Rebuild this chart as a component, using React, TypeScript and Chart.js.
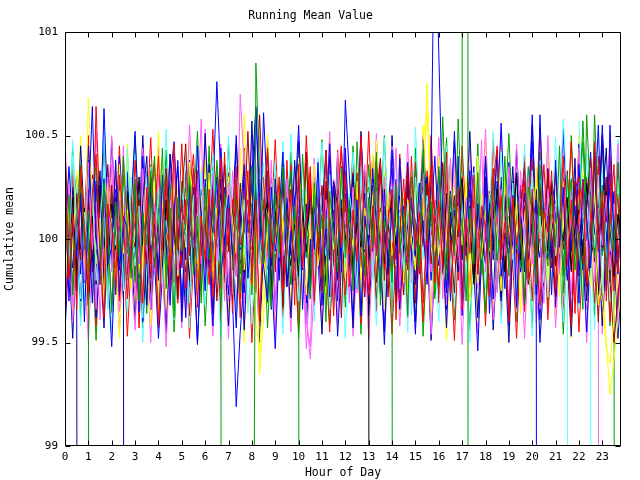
import React, { useEffect, useRef } from "react";
import { Chart, registerables } from "chart.js";

Chart.register(...registerables);

// x positions (hour of day), every 10 minutes
const hours = [
  0, 0.17, 0.33, 0.5, 0.67, 0.83, 1, 1.17, 1.33, 1.5, 1.67, 1.83,
  2, 2.17, 2.33, 2.5, 2.67, 2.83, 3, 3.17, 3.33, 3.5, 3.67, 3.83,
  4, 4.17, 4.33, 4.5, 4.67, 4.83, 5, 5.17, 5.33, 5.5, 5.67, 5.83,
  6, 6.17, 6.33, 6.5, 6.67, 6.83, 7, 7.17, 7.33, 7.5, 7.67, 7.83,
  8, 8.17, 8.33, 8.5, 8.67, 8.83, 9, 9.17, 9.33, 9.5, 9.67, 9.83,
  10, 10.17, 10.33, 10.5, 10.67, 10.83, 11, 11.17, 11.33, 11.5, 11.67, 11.83,
  12, 12.17, 12.33, 12.5, 12.67, 12.83, 13, 13.17, 13.33, 13.5, 13.67, 13.83,
  14, 14.17, 14.33, 14.5, 14.67, 14.83, 15, 15.17, 15.33, 15.5, 15.67, 15.83,
  16, 16.17, 16.33, 16.5, 16.67, 16.83, 17, 17.17, 17.33, 17.5, 17.67, 17.83,
  18, 18.17, 18.33, 18.5, 18.67, 18.83, 19, 19.17, 19.33, 19.5, 19.67, 19.83,
  20, 20.17, 20.33, 20.5, 20.67, 20.83, 21, 21.17, 21.33, 21.5, 21.67, 21.83,
  22, 22.17, 22.33, 22.5, 22.67, 22.83, 23, 23.17, 23.33, 23.5, 23.67, 23.83,
  24,
];

// x positions (hour of day), every 20 minutes, for the widely scattered runs
const hoursCoarse = [
  0, 0.33, 0.67, 1, 1.33, 1.67, 2, 2.33, 2.67, 3, 3.33, 3.67,
  4, 4.33, 4.67, 5, 5.33, 5.67, 6, 6.33, 6.67, 7, 7.33, 7.67,
  8, 8.33, 8.67, 9, 9.33, 9.67, 10, 10.33, 10.67, 11, 11.33, 11.67,
  12, 12.33, 12.67, 13, 13.33, 13.67, 14, 14.33, 14.67, 15, 15.33, 15.67,
  16, 16.33, 16.67, 17, 17.33, 17.67, 18, 18.33, 18.67, 19, 19.33, 19.67,
  20, 20.33, 20.67, 21, 21.33, 21.67, 22, 22.33, 22.67, 23, 23.33, 23.67,
  24,
];

const xTickValues = [0, 1, 2, 3, 4, 5, 6, 7, 8, 9, 10, 11, 12, 13, 14, 15, 16, 17, 18, 19, 20, 21, 22, 23];
const yTickValues = [99, 99.5, 100, 100.5, 101];

const run01 = [
  100.28, 99.81, 100.12, 99.66, 100.35, 100.04, 99.74, 100.22, 100.41, 99.93, 99.62, 100.17,
  100.06, 99.79, 100.31, 100.09, 99.71, 99.98, 100.38, 100.02, 99.69, 100.25, 99.88, 100.13,
  99.58, 100.07, 100.29, 99.84, 100.46, 99.95, 100.18, 99.76, 100.03, 100.34, 99.67, 100.11,
  99.9, 100.24, 99.72, 100.08, 100.39, 99.83, 100.15, 99.64, 100.27, 99.97, 100.05, 100.33,
  99.78, 100.19, 99.6, 100.12, 100.44, 99.91, 100.01, 100.3, 99.75, 99.94, 100.21, 99.68,
  100.36, 99.86, 100.1, 100.26, 99.7, 100.04, 99.82, 100.43, 100.07, 99.63, 100.2, 99.96,
  100.32, 99.77, 100.14, 99.89, 100.5, 100.0, 99.73, 100.16, 99.92, 100.37, 99.8, 100.09,
  100.23, 99.61, 100.02, 100.29, 99.85, 100.4, 99.95, 100.13, 99.69, 100.06, 100.35, 99.79,
  100.18, 99.87, 100.42, 99.74, 100.03, 100.25, 99.66, 100.1, 99.93, 100.31, 99.83, 100.16,
  100.05, 99.72, 100.27, 100.45, 99.9, 100.08, 99.6, 100.2, 99.97, 100.12, 100.37, 99.81,
  100.24, 99.93, 99.68, 100.14, 100.03, 100.33, 99.76, 100.08, 100.4, 99.87, 100.19, 99.64,
  100.11, 100.28, 99.79, 100.01, 100.47, 99.95, 100.22, 99.7, 100.09, 100.36, 99.84, 100.17,
  100.05,
];
const run02 = [
  99.87, 100.21, 99.73, 100.09, 100.36, 99.95, 100.14, 80, null, 99.78, 100.27, 100.03,
  99.65, 100.18, 99.92, 100.4, 100.06, 99.81, 100.29, 99.7, 100.12, 99.97, 100.33, 99.86,
  100.04, 100.44, 99.76, 100.15, 99.62, 100.2, 99.94, 100.08, 100.3, 99.83, 100.11, 99.69,
  100.25, 99.9, 100.02, 100.38, 100.1, 80, null, 99.85, 100.19, 99.74, 100.07, null,
  96, 100.85, 100.31, 99.88, 100.13, 99.67, 100.22, 99.93, 100.35, 100.0, 99.78, 100.16,
  99.89, 100.41, 100.05, 99.71, 100.27, 99.96, 100.12, 99.6, 100.23, 100.02, 99.84, 100.34,
  99.91, 100.17, 99.75, 100.47, 100.08, 99.82, 100.2, 99.97, 100.39, 99.68, 100.1, 100.01,
  99.79, 100.26, 99.93, 100.14, 99.63, 100.3, 100.06, 99.86, 100.43, 99.99, 100.18, 99.73,
  100.35, 100.03, 99.8, 100.22, 99.92, 100.58, 100.09, 99.7, 100.15, 99.88, 100.32, 99.97,
  99.64, 100.11, 100.28, 99.9, 100.04, 100.4, 99.82, 100.19, 99.95, 100.07, 99.69, 100.25,
  100.13, 99.78, 100.36, 100.0, 99.87, 100.21, 99.96, 100.45, 99.74, 100.1, 100.29, 99.85,
  100.03, 99.66, 100.6, 100.17, 99.91, 100.08, 100.26, 99.8, 100.12, 99.94, 100.37, 100.02,
  99.89,
];
const run03 = [
  100.33, 99.7, 100.08, 99.91, 100.22, 99.6, 100.15, 100.64, 100.02, 99.78, 100.29, 99.88,
  99.96, 100.38, 99.73, 100.11, 100.05, 99.84, 100.26, 99.65, 100.19, 100.4, 99.9, 100.07,
  99.8, 100.31, 99.97, 99.68, 100.14, 100.35, 100.0, 99.62, 100.23, 99.86, 100.45, 100.09,
  99.75, 100.17, 100.03, 100.3, 99.83, 99.99, 100.21, 99.92, 99.57, 100.12, 100.36, 99.81,
  100.06, 100.63, 100.2, 99.87, 99.7, 100.25, 99.94, 100.13, 100.42, 99.77, 100.04, 99.89,
  100.3, 99.66, 100.1, 100.22, 99.95, 100.37, 99.83, 100.05, 99.72, 100.28, 100.16, 99.9,
  100.44, 100.01, 99.8, 100.19, 99.63, 100.11, 99.97, 100.34, 100.07, 99.74, 100.24, 99.86,
  100.15, 99.69, 100.39, 100.0, 99.85, 100.2, 99.92, 100.27, 100.05, 99.78, 100.31, 101.7,
  100.9, 100.12, 99.76, 100.23, 99.95, 100.4, 99.71, 100.08, 100.33, 99.88, 100.17, 99.98,
  100.26, 99.64, 100.1, 100.43, 99.82, 100.03, 99.93, 100.21, 99.67, 100.14, 100.35, 99.9,
  100.07, 100.19, 80, null, 100.11, 99.73, 100.38, 99.96, 100.25, 99.8, 100.04, 100.16,
  99.69, 100.29, 100.09, 99.86, 100.42, 99.94, 100.18, 99.75, 100.55, 100.0, 99.83, 100.24,
  99.98,
];
const run04 = [
  99.9, 100.26, 99.68, 100.14, 100.03, 99.8, 100.37, 99.95, 100.18, 99.61, 100.09, 100.3,
  99.84, 100.12, 99.99, 100.45, 99.72, 100.06, 100.21, 99.88, 100.34, 100.01, 99.66, 100.17,
  99.93, 100.28, 99.77, 100.1, 100.4, 99.85, 100.05, 99.63, 100.22, 99.96, 100.13, 100.58,
  99.79, 100.08, 100.31, 99.89, 100.16, 99.7, 100.27, 100.02, 99.82, 100.7, 100.35, 99.94,
  100.11, 99.74, 100.24, 100.06, 99.87, 100.38, 99.65, 100.15, 99.92, 100.29, 100.0, 99.81,
  100.2, 99.96, 99.6, 99.48, 100.07, 100.33, 99.86, 100.19, 100.04, 99.73, 100.42, 99.98,
  100.13, 99.69, 100.25, 99.91, 100.08, 100.36, 99.78, 100.02, 100.17, 99.87, 100.3, 99.95,
  100.1, 100.44, 99.76, 100.05, 99.62, 100.23, 99.93, 100.14, 100.32, 99.8, 100.06, 99.97,
  100.27, 99.71, 100.11, 100.39, 99.89, 100.01, 99.67, 100.2, 99.94, 100.15, 100.03, 100.48,
  99.84, 100.09, 100.26, 99.74, 100.13, 99.92, 100.35, 100.04, 99.66, 100.19, 99.98, 100.3,
  99.88, 100.12, 100.02, 99.69, 100.24, 100.07, 100.16, 99.83, 100.41, 99.95, 100.1, 99.72,
  100.05, 100.28, 99.9, 100.34, 99.79, 100.15, 99.97, 100.21, 99.85, 100.09, 100.46, 100.0,
  100.12,
];
const run05 = [
  100.18, 99.85, 100.4, 100.02, 99.71, 100.13, 99.94, 100.29, 99.8, 100.07, 100.35, 99.66,
  100.1, 99.97, 100.23, 99.75, 100.44, 100.05, 99.87, 100.16, 99.62, 100.3, 100.0, 99.91,
  100.25, 99.78, 100.09, 99.95, 100.37, 99.83, 100.12, 100.03, 99.69, 100.21, 99.9, 100.33,
  99.76, 100.15, 100.41, 100.01, 99.86, 100.08, 100.28, 99.73, 100.11, 99.96, 100.19, 99.64,
  100.04, 100.36, 99.88, 100.14, 99.79, 100.27, 99.93, 100.07, 100.47, 99.84, 100.2, 100.0,
  99.7, 100.24, 99.98, 100.12, 99.82, 100.39, 100.06, 99.92, 100.31, 99.67, 100.15, 100.03,
  99.89, 100.22, 100.08, 99.76, 100.35, 99.95, 100.17, 99.81, 100.02, 100.26, 99.72, 100.11,
  99.99, 100.43, 100.05, 99.85, 100.18, 99.63, 100.3, 100.09, 99.9, 100.21, 100.01, 99.77,
  100.14, 99.94, 100.37, 99.83, 100.06, 100.25, 99.68, 100.12, 99.97, 100.32, 99.88, 100.04,
  100.2, 99.75, 100.1, 99.93, 100.42, 100.0, 99.86, 100.27, 99.71, 100.16, 100.03, 99.9,
  100.33, 99.98, 100.11, 99.79, 100.22, 100.06, 99.92, 100.15, 100.35, 100.05, 80, null,
  100.57, 100.1, 99.85, 100.2, 99.96, 100.31, 99.74, 100.08, 99.94, 100.17, 100.02, 99.81,
  100.13,
];
const run06 = [
  99.72, 100.19, 99.95, 100.33, 100.06, 99.84, 100.68, 100.2, 99.88, 100.1, 99.69, 100.27,
  100.01, 99.8, 100.36, 99.93, 100.14, 99.76, 100.22, 100.05, 99.86, 100.4, 99.97, 100.11,
  99.65, 100.18, 100.02, 99.9, 100.29, 99.82, 100.13, 99.96, 100.37, 100.07, 99.74, 100.21,
  99.91, 100.32, 99.8, 100.15, 100.0, 99.7, 100.26, 100.09, 99.93, 100.44, 99.85, 100.03,
  99.78, 100.12, 99.35, 99.62, 100.07, 100.24, 99.94, 100.3, 100.04, 99.83, 100.17, 99.9,
  100.39, 99.99, 99.73, 100.1, 100.26, 99.87, 100.05, 99.68, 100.2, 99.95, 100.12, 100.34,
  99.81, 100.08, 99.97, 100.28, 99.76, 100.15, 100.02, 100.41, 99.89, 100.13, 99.66, 100.24,
  99.92, 100.06, 100.31, 99.79, 100.19, 100.0, 99.85, 100.27, 100.09, 100.75, 100.22, 99.94,
  100.11, 99.74, 100.03, 100.36, 99.88, 100.16, 99.97, 100.25, 99.7, 100.08, 100.4, 99.91,
  100.14, 99.83, 100.21, 100.01, 99.75, 100.3, 100.06, 99.93, 100.17, 99.64, 100.1, 100.23,
  99.87, 100.35, 100.0, 100.12, 99.8, 100.19, 100.04, 99.72, 100.28, 99.96, 100.14, 99.84,
  100.09, 100.32, 99.9, 99.77, 100.02, 99.68, 99.85, 99.5, 99.25, 99.42, 99.61, 99.8,
  99.9,
];
const run07 = [
  100.08, 99.9, 100.2, 99.83, 100.04, 100.15, 99.92, 100.11, 99.78, 100.26, 100.0, 99.87,
  100.17, 99.95, 100.06, 99.81, 100.23, 100.02, 99.89, 100.3, 99.97, 100.09, 99.74, 100.13,
  100.01, 99.86, 100.19, 99.94, 100.35, 99.9, 100.12, 100.03, 99.8, 100.16, 99.93, 100.24,
  99.85, 100.07, 100.28, 99.96, 100.1, 99.79, 100.2, 99.91, 100.05, 100.14, 99.84, 100.02,
  99.95, 100.25, 99.88, 100.09, 100.18, 99.76, 100.13, 99.98, 100.31, 100.0, 99.87, 100.07,
  99.82, 100.16, 99.94, 100.22, 100.04, 99.9, 100.1, 99.77, 100.03, 100.27, 99.92, 100.15,
  100.0, 100.19, 99.85, 100.08, 99.96, 100.33, 99.93, 80, null, 100.12, 99.88, 100.05,
  100.21, 99.97, 100.1, 99.8, 100.14, 100.02, 99.91, 100.26, 100.06, 99.86, 100.18, 99.99,
  100.09, 99.83, 100.22, 100.03, 99.93, 100.17, 100.29, 99.96, 100.08, 99.79, 100.12, 100.01,
  99.88, 100.15, 99.95, 100.24, 100.06, 99.84, 100.11, 100.02, 100.32, 99.9, 100.07, 99.97,
  100.18, 99.81, 100.04, 100.13, 99.94, 100.26, 99.87, 100.09, 99.99, 100.2, 99.85, 100.05,
  100.14, 99.92, 100.27, 100.01, 99.89, 100.1, 99.96, 100.23, 100.04, 99.82, 100.12, 100.0,
  100.07,
];
const run08 = [
  100.4, 100.05, 99.77, 100.22, 99.9, 100.13, 99.68, 100.31, 100.01, 99.86, 100.17, 99.95,
  100.26, 99.73, 100.09, 100.38, 99.83, 100.04, 99.96, 100.19, 99.64, 100.12, 100.29, 99.88,
  100.07, 99.8, 100.34, 99.98, 100.15, 99.71, 100.23, 100.46, 99.92, 100.06, 99.79, 100.18,
  99.87, 100.1, 100.27, 99.7, 100.02, 100.36, 99.94, 100.14, 99.82, 100.25, 100.08, 100.52,
  100.03, 99.76, 100.2, 99.91, 100.33, 100.0, 99.84, 100.16, 99.67, 100.09, 100.24, 99.93,
  100.11, 99.97, 100.42, 99.81, 100.05, 100.2, 99.75, 100.28, 100.01, 99.89, 100.13, 99.62,
  100.19, 99.95, 100.07, 100.32, 99.86, 100.1, 99.98, 100.4, 99.79, 100.15, 100.02, 99.72,
  100.24, 99.9, 100.11, 99.83, 100.35, 100.04, 99.69, 100.17, 99.96, 100.27, 99.88, 100.09,
  100.13, 100.37, 99.85, 100.0, 99.74, 100.21, 99.93, 100.06, 100.3, 99.78, 100.14, 99.99,
  100.25, 99.82, 100.08, 100.43, 99.94, 100.12, 99.87, 100.2, 99.66, 100.03, 100.16, 99.9,
  100.09, 99.98, 100.23, 99.8, 100.34, 100.05, 99.73, 100.12, 99.95, 100.19, 99.84, 100.28,
  100.01, 99.88, 100.15, 100.39, 99.97, 99.6, 100.06, 100.3, 99.79, 100.1, 99.92, 100.24,
  100.02,
];
const run09 = [
  100.11, 99.82, 100.25, 100.0, 80, null, 100.16, 99.89, 100.07, 100.33, 99.75, 100.02,
  99.94, 100.2, 99.85, 100.06, 80, null, 100.23, 99.93, 100.12, 99.68, 100.3, 100.04,
  99.86, 100.15, 99.97, 100.41, 100.08, 99.79, 100.19, 99.9, 100.27, 100.01, 99.73, 100.13,
  99.96, 100.36, 99.84, 100.05, 100.22, 99.91, 100.1, 99.7, 100.18, 99.95, 100.32, 100.03,
  99.8, 100.26, 100.09, 99.88, 100.14, 99.66, 100.29, 100.0, 99.78, 100.2, 99.93, 100.38,
  100.06, 99.85, 100.17, 99.72, 100.24, 99.97, 100.12, 100.43, 99.9, 100.08, 99.81, 100.19,
  99.95, 100.03, 100.31, 99.76, 100.1, 100.22, 99.87, 100.14, 99.99, 100.37, 100.05, 99.83,
  100.21, 99.69, 100.11, 99.94, 100.28, 100.02, 99.79, 100.16, 100.4, 99.92, 100.07, 99.86,
  100.25, 100.01, 99.74, 100.13, 99.97, 100.33, 99.9, 100.2, 100.06, 99.8, 100.17, 100.04,
  100.3, 99.88, 100.12, 99.98, 99.7, 100.21, 100.05, 100.35, 99.93, 100.15, 99.84, 100.09,
  99.96, 100.24, 100.02, 99.77, 100.18, 99.91, 100.13, 99.85, 100.29, 100.06, 99.94, 100.39,
  99.82, 100.1, 99.99, 100.23, 100.03, 99.73, 100.17, 100.44, 99.95, 100.08, 99.86, 100.14,
  100.01,
];
const run10 = [
  99.61, 100.12, 100.3, 99.88, 100.04, 99.79, 100.24, 99.93, 100.64, 100.1, 99.85, 100.17,
  99.97, 100.36, 99.7, 100.06, 100.21, 99.9, 100.14, 99.57, 100.02, 100.28, 99.81, 100.09,
  100.4, 99.95, 100.15, 99.74, 100.25, 100.0, 99.86, 100.19, 99.63, 100.11, 100.33, 99.92,
  100.07, 99.78, 100.22, 100.03, 99.89, 100.42, 99.96, 100.13, 100.35, 99.71, 100.08, 100.19,
  99.84, 100.29, 100.01, 99.9, 100.16, 99.68, 100.23, 100.05, 99.8, 100.38, 99.94, 100.1,
  99.75, 100.17, 100.02, 100.31, 99.87, 100.06, 100.26, 99.92, 100.13, 99.66, 100.2, 100.45,
  99.99, 100.09, 99.82, 100.24, 100.04, 99.73, 100.18, 99.95, 100.37, 100.01, 99.86, 100.14,
  99.9, 100.27, 99.7, 100.11, 100.32, 99.98, 100.05, 99.83, 100.2, 99.94, 100.41, 100.07,
  99.77, 100.15, 99.96, 100.23, 99.88, 100.03, 100.3, 100.0, 99.72, 100.18, 100.06, 99.91,
  100.12, 99.8, 100.34, 99.97, 100.21, 99.85, 100.02, 100.26, 99.9, 100.09, 99.65, 100.16,
  100.39, 99.93, 100.05, 99.79, 100.28, 100.01, 99.87, 100.13, 100.22, 99.95, 99.58, 100.1,
  100.24, 100.04, 99.83, 100.17, 99.92, 100.35, 99.96, 100.11, 100.3, 99.75, 100.08, 100.43,
  100.0,
];
const run11 = [
  100.19, 99.9, 100.06, 99.75, 100.28, 100.01, 99.84, 100.14, 100.37, 99.96, 100.09, 99.7,
  100.23, 100.03, 99.88, 100.31, 99.93, 100.12, 99.79, 100.2, 100.05, 99.64, 100.16, 100.4,
  99.97, 100.08, 99.82, 100.26, 100.0, 99.89, 100.13, 99.72, 100.34, 100.04, 99.91, 100.18,
  100.02, 100.45, 99.86, 100.11, 99.78, 100.22, 99.94, 100.07, 100.29, 99.83, 100.15, 99.98,
  100.35, 99.9, 100.03, 100.19, 99.69, 100.1, 99.88, 100.24, 99.97, 100.08, 100.33, 99.8,
  100.05, 80, null, 100.17, 99.92, 100.27, 99.74, 100.1, 100.02, 99.87, 100.38, 100.06,
  99.95, 100.21, 99.81, 100.13, 100.0, 100.3, 99.9, 100.09, 100.42, 99.78, 100.16, 99.96,
  99.86, 80, null, 100.2, 99.94, 100.07, 100.33, 99.85, 100.12, 99.99, 100.25, 99.71,
  100.04, 100.18, 99.89, 100.36, 100.01, 100.14, 100.3, 140, 60, null, 100.1, 99.83,
  100.22, 99.96, 100.07, 99.75, 100.19, 100.03, 99.91, 100.28, 100.12, 99.86, 100.0, 100.35,
  100.08, 99.79, 100.16, 100.04, 99.93, 100.24, 99.97, 100.11, 99.82, 100.31, 100.02, 99.9,
  100.18, 100.47, 100.05, 99.88, 100.6, 100.13, 99.95, 100.22, 99.84, 100.09, 100.01, 100.27,
  99.93,
];
const run12 = [
  99.98, 100.35, 100.06, 99.79, 100.21, 99.91, 100.1, 99.69, 100.28, 100.0, 100.63, 100.14,
  99.86, 100.04, 100.19, 99.73, 100.32, 99.95, 100.09, 99.88, 100.4, 100.02, 99.66, 100.16,
  99.83, 100.27, 100.07, 99.94, 100.12, 100.38, 99.6, 100.03, 99.77, 100.2, 99.9, 100.11,
  100.05, 99.86, 100.22, 100.76, 100.3, 99.97, 100.14, 99.71, 99.19, 99.55, 99.82, 100.09,
  100.02, 100.25, 99.93, 100.61, 100.18, 99.87, 100.1, 99.8, 100.33, 100.04, 99.92, 100.2,
  100.29, 99.95, 100.08, 99.76, 100.15, 100.01, 99.89, 100.23, 100.06, 99.98, 100.37, 99.84,
  100.67, 100.31, 100.02, 99.9, 100.13, 99.72, 100.07, 100.26, 99.94, 100.11, 99.85, 100.19,
  100.34, 100.0, 99.81, 100.16, 100.05, 99.93, 99.78, 100.12, 100.27, 99.96, 100.09, 100.4,
  100.02, 99.87, 100.2, 99.7, 100.14, 100.01, 100.24, 99.92, 100.07, 100.35, 99.83, 100.1,
  99.88, 100.17, 99.99, 100.28, 100.04, 99.76, 100.37, 99.95, 100.13, 99.84, 100.22, 100.06,
  100.15, 99.73, 100.6, 100.08, 99.91, 100.19, 99.97, 100.11, 100.3, 99.82, 100.03, 100.26,
  100.06, 99.85, 100.17, 100.42, 99.94, 100.1, 100.55, 100.12, 99.9, 100.21, 99.98, 100.33,
  100.2,
];
const run13 = [
  100.07, 99.76, 100.2, 99.93, 100.31, 100.0, 99.87, 100.14, 99.66, 100.25, 100.04, 99.95,
  100.36, 99.89, 100.11, 99.8, 100.18, 100.02, 99.73, 100.09, 100.27, 99.97, 100.13, 99.84,
  100.22, 99.91, 100.05, 100.4, 99.79, 100.1, 99.96, 100.19, 99.7, 100.06, 100.3, 99.88,
  100.12, 100.01, 99.83, 100.24, 99.94, 100.16, 99.78, 100.33, 100.07, 99.9, 100.43, 100.03,
  99.86, 100.15, 100.5, 99.95, 100.09, 99.71, 100.26, 100.0, 99.89, 100.17, 99.82, 100.35,
  100.04, 99.93, 99.62, 99.42, 99.77, 100.13, 100.21, 99.97, 100.08, 100.29, 99.86, 100.02,
  99.92, 100.18, 100.05, 99.74, 100.38, 100.1, 100.0, 99.81, 100.23, 100.06, 99.95, 100.15,
  100.32, 99.88, 100.11, 99.97, 100.2, 99.79, 99.9, 100.27, 100.03, 100.13, 99.84, 100.08,
  100.19, 99.95, 100.36, 99.76, 100.04, 100.12, 99.85, 100.09, 99.98, 100.25, 100.01, 99.9,
  100.16, 99.73, 100.2, 100.07, 99.94, 100.3, 99.99, 100.14, 99.8, 100.33, 100.02, 99.88,
  100.1, 99.6, 99.82, 100.18, 100.06, 100.24, 99.93, 100.04, 100.16, 99.87, 100.28, 100.0,
  100.12, 99.9, 100.05, 100.21, 99.97, 100.02, 80, null, 100.15, 99.86, 100.09, 100.2,
  100.01,
];
const run14 = [
  99.81, 100.13, 99.94, 100.27, 100.06, 99.7, 100.2, 100.02, 100.35, 99.88, 100.1, 99.96,
  100.08, 99.74, 100.19, 100.01, 99.85, 100.3, 99.93, 100.24, 100.04, 99.79, 100.15, 99.99,
  100.11, 99.87, 100.32, 100.0, 99.68, 100.17, 100.03, 100.4, 99.9, 100.12, 99.83, 100.22,
  99.97, 100.06, 100.28, 99.8, 100.1, 99.92, 100.18, 99.77, 100.02, 100.25, 99.95, 100.09,
  99.88, 100.14, 99.98, 100.37, 100.05, 99.73, 100.21, 99.91, 100.12, 100.3, 99.84, 100.01,
  99.93, 100.16, 100.07, 99.78, 100.23, 100.03, 100.11, 100.38, 99.89, 100.05, 99.97, 100.26,
  99.82, 100.09, 100.18, 99.95, 100.34, 100.0, 100.14, 99.87, 100.04, 100.21, 99.76, 100.1,
  100.25, 99.96, 100.13, 99.85, 100.06, 100.31, 99.92, 100.17, 100.02, 99.8, 100.24, 100.08,
  100.01, 100.3, 99.9, 100.15, 99.98, 100.07, 100.19, 99.83, 100.11, 99.94, 100.28, 100.03,
  99.89, 100.22, 100.05, 100.36, 99.93, 100.12, 100.08, 99.9, 100.26, 100.02, 99.79, 100.17,
  100.3, 99.97, 100.1, 99.86, 100.2, 100.04, 99.94, 100.15, 100.58, 100.21, 100.03, 99.88,
  100.12, 100.0, 100.24, 99.93, 80, null, 100.06, 99.91, 100.18, 100.02, 100.29, 99.97,
  100.07,
];
const run15 = [
  100.24, 99.89, 100.1, 99.72, 100.33, 100.02, 99.81, 100.06, 99.95, 100.2, 99.86, 100.14,
  100.31, 100.0, 99.77, 100.12, 100.4, 99.91, 100.05, 99.83, 100.22, 99.97, 100.09, 100.28,
  99.9, 100.16, 99.78, 100.03, 99.94, 100.25, 100.11, 99.69, 100.19, 100.01, 99.88, 100.35,
  99.96, 100.08, 100.26, 99.84, 100.14, 100.02, 100.3, 99.85, 100.07, 99.92, 100.6, 100.13,
  99.95, 99.6, 99.45, 99.8, 100.1, 100.2, 99.87, 100.17, 100.03, 100.29, 99.93, 100.06,
  100.12, 99.82, 100.21, 100.0, 100.36, 99.9, 100.04, 99.76, 100.15, 99.98, 100.08, 99.86,
  100.19, 100.02, 99.88, 100.27, 99.95, 100.1, 99.8, 100.23, 100.06, 99.91, 100.32, 100.0,
  100.14, 99.87, 100.01, 100.18, 99.73, 100.09, 100.25, 99.97, 100.48, 100.62, 100.12, 99.84,
  99.93, 100.11, 100.2, 99.86, 100.04, 100.16, 100.03, 100.3, 99.9, 100.09, 99.79, 100.22,
  100.15, 99.94, 100.07, 100.34, 99.87, 100.05, 99.91, 100.13, 100.26, 99.98, 100.18, 99.82,
  100.08, 100.29, 99.96, 100.14, 100.02, 99.75, 100.17, 99.93, 100.06, 100.2, 99.88, 100.11,
  99.86, 100.05, 100.13, 99.97, 100.24, 99.79, 99.7, 99.48, 99.4, 99.62, 99.85, 100.03,
  100.16,
];
const run16 = [
  99.93, 100.22, 100.05, 99.78, 100.31, 100.1, 100.14, 99.84, 100.27, 100.0, 99.91, 100.36,
  100.03, 100.18, 99.72, 100.09, 99.96, 100.25, 99.82, 100.12, 100.04, 99.88, 100.3, 100.0,
  100.19, 99.94, 100.08, 100.41, 99.79, 100.13, 99.87, 100.33, 100.06, 99.92, 100.2, 99.75,
  100.11, 100.01, 99.83, 100.24, 100.07, 99.97, 100.23, 100.09, 99.9, 100.15, 99.8, 100.02,
  100.04, 100.2, 100.6, 100.12, 99.95, 100.28, 99.9, 100.13, 100.06, 99.77, 100.19, 100.03,
  100.16, 99.85, 100.0, 100.27, 99.93, 100.1, 100.25, 100.08, 99.94, 100.14, 99.8, 100.35,
  99.91, 100.15, 100.32, 99.99, 100.06, 99.86, 100.07, 99.96, 100.2, 100.39, 99.88, 100.12,
  99.84, 100.11, 100.02, 99.73, 100.23, 100.05, 100.28, 99.93, 100.09, 100.17, 99.97, 100.01,
  100.12, 100.36, 99.89, 100.04, 100.21, 99.9, 99.96, 100.15, 100.07, 99.82, 100.3, 100.0,
  100.22, 99.87, 100.12, 100.03, 99.94, 100.19, 100.01, 100.17, 99.85, 100.26, 100.08, 99.78,
  99.92, 100.09, 100.27, 100.0, 100.14, 99.86, 100.05, 99.9, 100.18, 100.33, 99.95, 100.11,
  100.13, 100.02, 99.77, 100.2, 99.89, 100.06, 100.09, 100.25, 99.8, 99.5, 99.72, 99.95,
  100.04,
];
const run17 = [
  100.13, 100.0, 99.86, 100.24, 99.95, 100.08, 100.06, 100.2, 99.92, 100.11, 99.8, 100.29,
  99.9, 100.12, 100.27, 99.98, 100.05, 99.84, 100.03, 99.81, 100.15, 100.33, 99.94, 100.1,
  100.22, 100.07, 99.96, 99.78, 100.18, 100.01, 99.92, 100.17, 100.04, 100.25, 99.87, 100.09,
  100.1, 99.88, 100.21, 100.02, 100.14, 99.93, 100.0, 100.13, 99.9, 100.27, 100.05, 99.97,
  100.57, 100.06, 99.98, 100.16, 99.85, 100.11, 100.15, 99.89, 100.07, 100.24, 99.95, 100.02,
  99.95, 100.2, 100.03, 99.86, 100.12, 100.31, 100.11, 99.92, 100.17, 100.0, 99.83, 100.08,
  100.07, 99.98, 99.85, 100.2, 100.1, 99.94, 100.18, 100.29, 100.04, 99.9, 100.14, 100.02,
  99.93, 100.1, 100.21, 99.87, 100.06, 100.16, 100.02, 99.88, 100.12, 100.3, 99.96, 100.05,
  100.25, 100.06, 99.92, 100.15, 100.01, 99.84, 100.1, 99.97, 100.16, 100.04, 100.23, 99.91,
  100.04, 100.19, 99.9, 100.08, 99.99, 100.12, 99.98, 100.08, 100.13, 99.86, 100.2, 100.03,
  100.22, 99.95, 100.06, 100.17, 99.9, 100.1, 99.89, 100.14, 100.25, 100.01, 100.09, 99.94,
  100.09, 100.0, 100.17, 100.31, 99.96, 100.05, 100.5, 100.03, 99.92, 100.12, 99.88, 100.06,
  100.11,
];
const run18 = [
  99.77, 100.1, 100.34, 99.95, 100.18, 99.84, 100.13, 99.91, 100.03, 100.26, 99.79, 100.07,
  100.21, 99.86, 100.1, 99.71, 100.3, 100.0, 99.96, 100.27, 100.05, 99.88, 100.14, 100.37,
  99.82, 100.12, 99.95, 100.22, 100.04, 99.69, 100.06, 99.9, 100.23, 100.41, 99.97, 100.09,
  100.16, 100.04, 99.85, 100.12, 99.76, 100.2, 99.97, 100.19, 100.08, 99.62, 100.26, 100.03,
  100.11, 99.81, 100.03, 100.3, 99.92, 100.15, 99.94, 100.17, 100.3, 99.8, 100.06, 99.9,
  100.07, 99.99, 100.12, 100.35, 99.87, 100.02, 99.88, 100.21, 100.01, 99.93, 100.16, 100.44,
  100.13, 99.93, 100.08, 99.78, 100.24, 100.05, 100.02, 100.16, 99.9, 100.31, 99.97, 100.11,
  100.24, 100.05, 100.14, 99.83, 100.2, 99.96, 99.85, 100.1, 99.97, 100.33, 100.02, 100.18,
  100.2, 100.08, 100.29, 99.91, 100.13, 99.8, 100.0, 99.89, 100.12, 100.25, 99.94, 100.06,
  100.06, 100.23, 99.94, 100.1, 99.72, 100.18, 100.15, 100.01, 100.1, 99.86, 100.28, 100.04,
  99.91, 100.17, 100.04, 100.36, 99.98, 100.12, 100.09, 99.96, 100.19, 99.81, 100.07, 100.24,
  100.3, 100.07, 99.88, 100.14, 99.93, 100.4, 100.02, 100.13, 100.4, 99.96, 100.22, 99.87,
  100.03,
];
const run19 = [
  100.2, 99.92, 100.1, 100.31, 99.83, 100.05, 100.38, 100.04, 99.87, 100.16, 99.95, 100.24,
  100.07, 100.24, 100.0, 99.79, 100.13, 99.93, 99.9, 100.13, 99.97, 100.28, 100.06, 99.85,
  100.15, 100.05, 100.28, 99.92, 100.1, 99.75, 99.95, 99.84, 100.09, 100.33, 100.01, 100.17,
  100.03, 100.19, 99.93, 100.11, 99.8, 100.25, 100.12, 100.01, 100.23, 99.88, 100.07, 99.96,
  100.3, 100.64, 100.1, 99.96, 100.18, 99.89, 100.05, 100.2, 99.9, 100.12, 100.32, 99.98,
  100.14, 99.97, 100.08, 99.82, 100.21, 100.04, 99.92, 100.18, 100.05, 100.27, 99.9, 100.11,
  100.26, 100.1, 99.99, 100.15, 99.87, 100.06, 100.03, 99.94, 100.12, 100.35, 100.0, 99.83,
  100.17, 100.29, 99.98, 100.09, 99.91, 100.2, 100.08, 100.0, 100.15, 99.86, 100.25, 100.04,
  99.87, 100.11, 100.04, 100.22, 99.95, 100.13, 100.21, 99.93, 100.09, 100.3, 100.02, 99.88,
  100.0, 100.15, 100.27, 99.9, 100.06, 100.19, 99.97, 100.06, 100.13, 100.24, 99.85, 100.1,
  100.6, 100.02, 99.91, 100.14, 100.05, 100.28, 100.16, 100.07, 99.85, 100.2, 99.98, 100.11,
  100.11, 100.24, 100.02, 99.89, 100.15, 100.55, 99.94, 100.12, 100.06, 100.23, 99.9, 100.08,
  100.18,
];
const run20 = [
  99.96, 100.15, 100.03, 99.84, 100.23, 100.08, 100.09, 99.85, 100.17, 100.3, 99.93, 100.05,
  100.04, 100.21, 99.93, 100.12, 99.8, 100.19, 100.1, 99.96, 100.08, 100.27, 99.88, 100.02,
  99.89, 100.02, 100.19, 99.95, 100.33, 100.07, 100.12, 100.25, 99.97, 100.04, 99.83, 100.16,
  100.06, 99.91, 100.14, 100.35, 100.0, 99.9, 99.95, 100.08, 100.01, 100.22, 99.86, 100.12,
  100.17, 99.87, 100.22, 100.06, 99.94, 100.3, 100.03, 100.12, 99.94, 100.18, 100.07, 99.85,
  100.2, 100.05, 99.91, 100.13, 99.99, 100.26, 100.09, 99.99, 100.16, 99.88, 100.24, 100.03,
  99.86, 100.07, 100.13, 100.02, 99.95, 100.2, 100.25, 100.0, 99.92, 100.11, 100.31, 100.05,
  100.11, 100.19, 100.04, 99.9, 100.15, 99.97, 99.93, 100.06, 100.1, 100.28, 100.02, 100.14,
  100.02, 100.59, 100.08, 99.92, 100.17, 100.04, 99.9, 100.16, 100.03, 100.21, 99.96, 100.1,
  100.13, 99.95, 100.07, 100.25, 100.0, 99.88, 100.2, 100.01, 99.88, 100.12, 100.06, 100.29,
  100.05, 100.14, 100.23, 99.94, 100.09, 100.02, 99.97, 100.09, 100.02, 100.18, 99.9, 100.13,
  100.1, 100.57, 100.13, 100.02, 100.36, 99.96, 99.92, 100.05, 100.14, 100.08, 80, null,
  null,
];

// widely scattered runs, sampled every 20 minutes
const wide01 = [99.55, 100.32, 99.7, 100.45, 99.62, 100.18, 99.48, 100.4, 99.83, 100.52, 99.6, 100.25, 99.52, 100.1, 100.47, 99.66, 100.38, 99.5, 100.29, 99.58, 100.44, 99.73, 100.5, 99.56, 100.35, 99.64, 100.2, 99.47, 100.42, 99.78, 100.55, 99.59, 100.3, 99.68, 100.46, 99.53, 100.22, 99.62, 100.5, 99.75, 100.37, 99.49, 100.43, 99.66, 100.27, 99.54, 100.48, 99.8, 100.33, 99.57, 100.52, 99.63, 100.24, 99.46, 100.4, 99.71, 100.56, 99.58, 100.31, 99.67, 100.47, 99.5, 100.15, 99.72, 100.53, 99.6, 100.36, 99.55, 100.44, 99.65, 100.28, 99.52, 100.1];
const wide02 = [100.42, 99.6, 100.25, 99.5, 100.36, 99.74, 100.5, 99.65, 100.12, 99.56, 100.44, 99.69, 100.31, 99.48, 100.38, 99.62, 100.55, 99.77, 100.2, 99.53, 100.46, 99.7, 100.34, 99.58, 100.49, 99.64, 100.27, 99.55, 100.4, 99.82, 100.33, 99.47, 100.21, 99.66, 100.52, 99.6, 100.39, 99.72, 100.48, 99.51, 100.3, 99.65, 100.45, 99.58, 100.18, 99.73, 100.5, 99.54, 100.28, 99.68, 100.41, 99.49, 100.35, 99.76, 100.53, 99.61, 100.24, 99.7, 100.46, 99.52, 100.32, 99.66, 100.5, 99.57, 100.27, 99.73, 100.44, 99.5, 100.37, 99.68, 100.51, 99.6, 100.3];
const wide03 = [99.66, 100.48, 99.58, 100.3, 99.7, 100.52, 99.55, 100.26, 99.64, 100.41, 99.5, 100.35, 99.74, 100.53, 99.61, 100.22, 99.57, 100.45, 99.68, 100.33, 99.52, 100.5, 99.63, 100.28, 99.59, 100.44, 99.75, 100.37, 99.54, 100.51, 99.7, 100.25, 99.6, 100.47, 99.66, 100.34, 99.52, 100.42, 99.73, 100.3, 99.58, 100.49, 99.64, 100.36, 99.55, 100.54, 99.71, 100.23, 99.6, 100.45, 99.67, 100.32, 99.5, 100.4, 99.76, 100.52, 99.59, 100.27, 99.65, 100.46, 99.53, 100.38, 99.72, 100.49, 99.6, 100.3, 99.67, 100.41, 99.56, 100.35, 99.7, 100.48, 99.8];
const wide04 = [100.35, 99.52, 100.45, 99.68, 100.27, 99.57, 100.48, 99.73, 100.33, 99.6, 100.5, 99.66, 100.24, 99.55, 100.42, 99.71, 100.36, 99.49, 100.51, 99.64, 100.29, 99.58, 100.46, 99.74, 100.3, 99.5, 100.43, 99.67, 100.35, 99.62, 100.47, 99.69, 100.26, 99.54, 100.4, 99.7, 100.33, 99.57, 100.52, 99.63, 100.28, 99.55, 100.5, 99.72, 100.37, 99.6, 100.44, 99.51, 100.26, 99.66, 100.47, 99.73, 100.52, 99.62, 100.38, 99.56, 100.3, 99.5, 100.43, 99.69, 100.55, 99.61, 100.34, 99.67, 100.25, 99.53, 100.46, 99.7, 100.4, 99.58, 100.32, 99.64, 100.2];
const wide05 = [99.6, 100.38, 99.72, 100.5, 99.58, 100.3, 99.66, 100.45, 99.53, 100.27, 99.7, 100.49, 99.57, 100.34, 99.64, 100.46, 99.52, 100.26, 99.75, 100.53, 99.6, 100.32, 99.67, 100.44, 99.5, 100.29, 99.71, 100.48, 99.62, 100.36, 99.56, 100.5, 99.68, 100.25, 99.55, 100.43, 99.73, 100.35, 99.59, 100.52, 99.65, 100.28, 99.54, 100.41, 99.74, 100.37, 99.6, 100.5, 99.69, 100.3, 99.51, 100.45, 99.73, 100.33, 99.58, 100.48, 99.63, 100.26, 99.52, 100.4, 99.7, 100.54, 99.61, 100.34, 99.66, 100.47, 99.55, 100.29, 99.69, 100.5, 99.6, 100.36, 99.85];
const wide06 = [100.3, 99.64, 100.5, 99.56, 100.41, 99.7, 100.35, 99.52, 100.46, 99.69, 100.3, 99.58, 100.52, 99.66, 100.24, 99.6, 100.47, 99.73, 100.38, 99.55, 100.33, 99.65, 100.44, 99.5, 100.27, 99.7, 100.51, 99.57, 100.36, 99.66, 100.45, 99.61, 100.29, 99.72, 100.5, 99.56, 100.31, 99.64, 100.42, 99.53, 100.48, 99.7, 100.37, 99.59, 100.25, 99.68, 100.55, 99.62, 100.4, 99.51, 100.34, 99.74, 100.28, 99.6, 100.49, 99.67, 100.43, 99.55, 100.32, 99.71, 100.26, 99.58, 100.46, 99.63, 100.39, 99.52, 100.5, 99.69, 100.31, 99.6, 100.43, 99.66, 100.05];
const wide07 = [99.7, 100.44, 99.62, 100.33, 99.51, 100.47, 99.64, 100.3, 99.72, 100.5, 99.57, 100.36, 99.68, 100.43, 99.55, 100.28, 99.74, 100.52, 99.58, 100.35, 99.66, 100.46, 99.61, 100.27, 99.73, 100.5, 99.57, 100.31, 99.65, 100.42, 99.52, 100.37, 99.7, 100.48, 99.59, 100.3, 99.67, 100.45, 99.54, 100.36, 99.71, 100.5, 99.6, 100.26, 99.65, 100.44, 99.53, 100.38, 99.72, 100.49, 99.61, 100.29, 99.56, 100.46, 99.64, 100.34, 99.75, 100.51, 99.6, 100.27, 99.57, 100.42, 99.68, 100.35, 99.54, 100.5, 99.71, 100.3, 99.63, 100.45, 99.58, 100.37, 99.9];
const wide08 = [100.47, 99.67, 100.31, 99.6, 100.52, 99.66, 100.28, 99.55, 100.43, 99.73, 100.37, 99.5, 100.45, 99.62, 100.35, 99.57, 100.3, 99.7, 100.53, 99.64, 100.26, 99.52, 100.42, 99.69, 100.36, 99.58, 100.48, 99.71, 100.27, 99.55, 100.5, 99.66, 100.39, 99.6, 100.33, 99.74, 100.44, 99.53, 100.29, 99.68, 100.51, 99.6, 100.32, 99.7, 100.46, 99.56, 100.38, 99.65, 100.49, 99.59, 100.3, 99.72, 100.45, 99.54, 100.27, 99.63, 100.5, 99.58, 100.4, 99.73, 100.35, 99.55, 100.44, 99.69, 100.52, 99.61, 100.3, 99.66, 100.47, 99.54, 100.36, 99.7, 100.15];

const runs = [run01, run02, run03, run04, run05, run06, run07, run08, run09, run10, run11, run12, run13, run14, run15, run16, run17, run18, run19, run20];
const runColors = [
  "#ff0000", "#00a000", "#0000ff", "#ff60ff", "#60ffff", "#ffff00", "#000000", "#a00000", "#0000a0", "#ff0000",
  "#00a000", "#0000ff", "#ff60ff", "#60ffff", "#ffff00", "#a00000", "#0000a0", "#ff0000", "#0000ff", "#00a000",
];
const wideRuns = [wide01, wide02, wide03, wide04, wide05, wide06, wide07, wide08];
const wideColors = ["#0000ff", "#ff60ff", "#60ffff", "#0000a0", "#ff0000", "#ffff00", "#00a000", "#ff60ff"];

const FONT = "'DejaVu Sans Mono', 'Liberation Mono', monospace";

const framePlugin = {
  id: "gnuFrame",
  afterDatasetsDraw(chart: any) {
    const { ctx, chartArea: a, scales } = chart;
    const xs = scales.x;
    const ys = scales.y;
    const L = Math.round(a.left) + 0.5;
    const R = Math.round(a.right) - 0.5;
    const T = Math.round(a.top) + 0.5;
    const B = Math.round(a.bottom) - 0.5;
    ctx.save();
    ctx.strokeStyle = "#000";
    ctx.lineWidth = 1;
    ctx.beginPath();
    ctx.rect(L, T, R - L, B - T);
    for (const h of xTickValues) {
      const px = Math.round(xs.getPixelForValue(h)) + 0.5;
      ctx.moveTo(px, B);
      ctx.lineTo(px, B - 5);
      ctx.moveTo(px, T);
      ctx.lineTo(px, T + 5);
    }
    for (const v of yTickValues) {
      const py = Math.round(ys.getPixelForValue(v)) + 0.5;
      ctx.moveTo(L, py);
      ctx.lineTo(L + 5, py);
      ctx.moveTo(R, py);
      ctx.lineTo(R - 5, py);
    }
    ctx.stroke();
    ctx.restore();
  },
};

function makeDataset(label: string, xs: number[], ys: (number | null)[], color: string) {
  return {
    label,
    data: ys.map((v, i) => ({ x: xs[i], y: v })),
    borderColor: color,
    backgroundColor: color,
    borderWidth: 1,
    pointRadius: 0,
    tension: 0,
    fill: false,
    spanGaps: false,
    clip: 0,
  };
}

export default function App() {
  const ref = useRef<HTMLCanvasElement | null>(null);
  useEffect(() => {
    if (!ref.current) return;
    const datasets = [
      ...runs.map((r, k) => makeDataset(`Run ${k + 1}`, hours, r, runColors[k])),
      ...wideRuns.map((r, k) => makeDataset(`Run ${k + 21}`, hoursCoarse, r, wideColors[k])),
    ];
    const chart = new Chart(ref.current, {
      type: "line",
      data: { datasets },
      plugins: [framePlugin],
      options: {
        responsive: false,
        animation: false,
        events: [],
        layout: { padding: { left: 0, right: 19, top: 0, bottom: 0 } },
        plugins: {
          legend: { display: false },
          tooltip: { enabled: false },
          title: {
            display: true,
            text: "Running Mean Value",
            color: "#000",
            font: { family: FONT, size: 11.5, weight: "normal" },
            padding: { top: 9, bottom: 9.2 },
          },
        },
        scales: {
          x: {
            type: "linear",
            min: 0,
            max: 23.8,
            grid: { display: false, drawTicks: false },
            border: { display: false },
            afterBuildTicks: (s: any) => {
              s.ticks = xTickValues.map((v) => ({ value: v }));
            },
            afterFit: (s: any) => {
              s.height = 34;
            },
            ticks: {
              color: "#000",
              padding: 5,
              maxRotation: 0,
              autoSkip: false,
              font: { family: FONT, size: 11 },
              callback: (v: any) => String(v),
            },
            title: {
              display: true,
              text: "Hour of Day",
              color: "#000",
              font: { family: FONT, size: 11.5 },
              padding: { top: 0, bottom: 0 },
            },
          },
          y: {
            type: "linear",
            min: 99,
            max: 101,
            grid: { display: false, drawTicks: false },
            border: { display: false },
            afterBuildTicks: (s: any) => {
              s.ticks = yTickValues.map((v) => ({ value: v }));
            },
            afterFit: (s: any) => {
              s.width = 65;
            },
            ticks: {
              color: "#000",
              padding: 7,
              font: { family: FONT, size: 11 },
              callback: (v: any) => String(v),
            },
            title: {
              display: true,
              text: "Cumulative mean",
              color: "#000",
              font: { family: FONT, size: 11.5 },
              padding: { top: 3, bottom: 0 },
            },
          },
        },
      },
    } as any);
    return () => chart.destroy();
  }, []);
  return (
    <div style={{ position: "absolute", left: 0, top: 0, width: 640, height: 480, background: "#fff" }}>
      <canvas ref={ref} width={640} height={480} style={{ display: "block" }} />
    </div>
  );
}
